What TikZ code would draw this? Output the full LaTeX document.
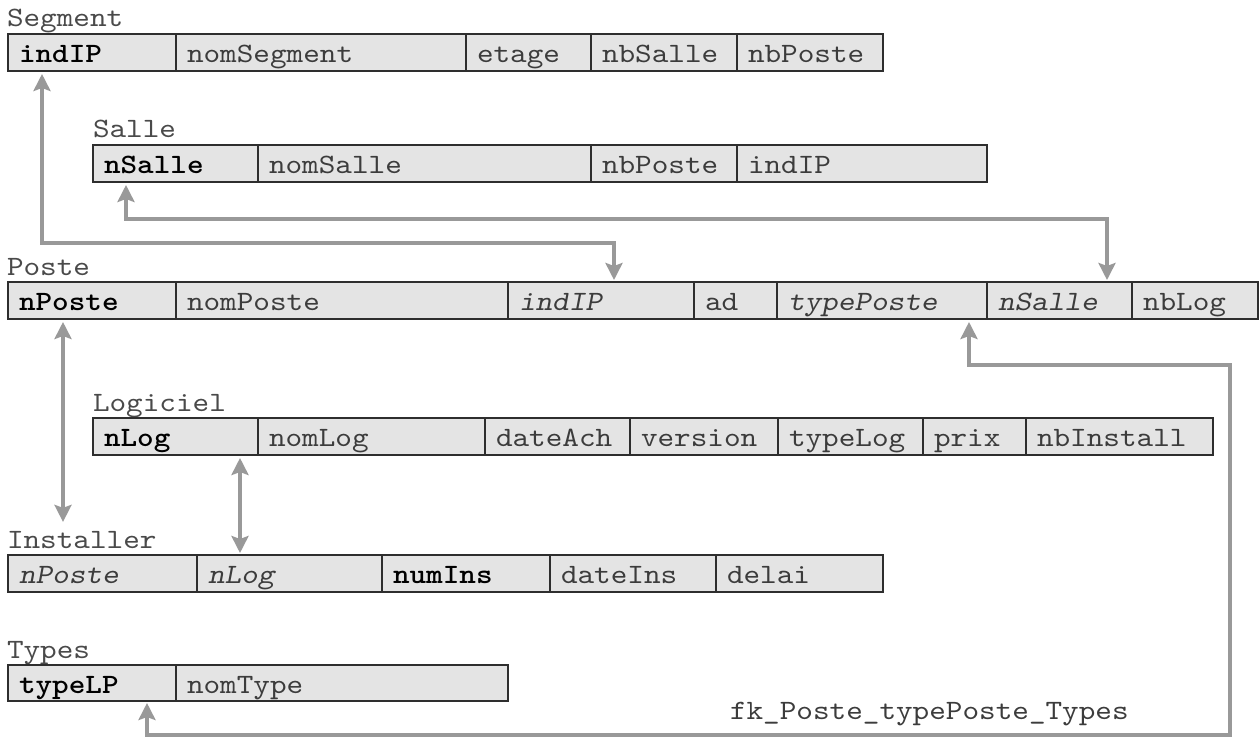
\documentclass[tikz,border=0pt]{standalone}
\usepackage{fontspec}
\setmonofont{lmmono10-regular.otf}[
  ItalicFont=lmmonoslant10-regular.otf,
  BoldFont=lmmonolt10-bold.otf,
  FakeStretch=1.13]
\usetikzlibrary{arrows.meta}

\definecolor{cellfill}{HTML}{E4E4E4}
\definecolor{rulecol}{HTML}{2E2E2E}
\definecolor{txtcol}{HTML}{3C3C3C}
\definecolor{namecol}{HTML}{4A4A4A}
\definecolor{conncol}{HTML}{999999}

\newcommand\schemafont{\ttfamily\fontsize{28}{30}\selectfont}
\newcommand\primk[1]{\textcolor{black}{\bfseries #1}}
\newcommand\forek[1]{\textit{#1}}

\begin{document}
\begin{tikzpicture}[x=1pt,y=-1pt,
  cell/.style={draw=rulecol, line width=1.4pt, fill=cellfill, anchor=north west,
    outer sep=0pt, minimum height=37pt, inner xsep=11pt, inner ysep=0pt,
    text height=20pt, text depth=0pt, align=left, font=\schemafont, text=txtcol},
  frame/.style={draw=rulecol, line width=2.4pt},
  tname/.style={anchor=base west, inner sep=0pt, outer sep=0pt, font=\schemafont, text=namecol},
  fktip/.tip={Stealth[length=17pt,width=17pt,inset=3pt]},
  conn/.style={draw=conncol, line width=3.5pt, fktip-fktip, shorten <=3pt, shorten >=2pt}]

\useasboundingbox (0,0) rectangle (1260,738);

% ---- Segment
\node[tname] (lSeg) at (7,27) {Segment};
\node[cell, text width=146pt] (seg1) at (8,34) {\primk{indIP}};
\node[cell, text width=268pt] (seg2) at (seg1.north east) {nomSegment};
\node[cell, text width=103pt] (seg3) at (seg2.north east) {etage};
\node[cell, text width=124pt] (seg4) at (seg3.north east) {nbSalle};
\node[cell, text width=124pt] (seg5) at (seg4.north east) {nbPoste};
\draw[frame] (seg1.north west) rectangle (seg5.south east);

% ---- Salle
\node[tname] (lSal) at (93,138) {Salle};
\node[cell, text width=143pt] (sal1) at (93,145) {\primk{nSalle}};
\node[cell, text width=311pt] (sal2) at (sal1.north east) {nomSalle};
\node[cell, text width=124pt] (sal3) at (sal2.north east) {nbPoste};
\node[cell, text width=228pt] (sal4) at (sal3.north east) {indIP};
\draw[frame] (sal1.north west) rectangle (sal4.south east);

% ---- Poste
\node[tname] (lPos) at (7,275) {Poste};
\node[cell, text width=146pt] (pos1) at (8,282) {\primk{nPoste}};
\node[cell, text width=310pt] (pos2) at (pos1.north east) {nomPoste};
\node[cell, text width=164pt] (pos3) at (pos2.north east) {\forek{indIP}};
\node[cell, text width=61pt]  (pos4) at (pos3.north east) {ad};
\node[cell, text width=188pt] (pos5) at (pos4.north east) {\forek{typePoste}};
\node[cell, text width=123pt] (pos6) at (pos5.north east) {\forek{nSalle}};
\node[cell, text width=104pt] (pos7) at (pos6.north east) {nbLog};
\draw[frame] (pos1.north west) rectangle (pos7.south east);

% ---- Logiciel
\node[tname] (lLog) at (93,411) {Logiciel};
\node[cell, text width=143pt] (log1) at (93,418) {\primk{nLog}};
\node[cell, text width=205pt] (log2) at (log1.north east) {nomLog};
\node[cell, text width=123pt] (log3) at (log2.north east) {dateAch};
\node[cell, text width=126pt] (log4) at (log3.north east) {version};
\node[cell, text width=123pt] (log5) at (log4.north east) {typeLog};
\node[cell, text width=81pt]  (log6) at (log5.north east) {prix};
\node[cell, text width=165pt] (log7) at (log6.north east) {nbInstall};
\draw[frame] (log1.north west) rectangle (log7.south east);

% ---- Installer
\node[tname] (lIns) at (7,548) {Installer};
\node[cell, text width=167pt] (ins1) at (8,555) {\forek{nPoste}};
\node[cell, text width=163pt] (ins2) at (ins1.north east) {\forek{nLog}};
\node[cell, text width=146pt] (ins3) at (ins2.north east) {\primk{numIns}};
\node[cell, text width=144pt] (ins4) at (ins3.north east) {dateIns};
\node[cell, text width=145pt] (ins5) at (ins4.north east) {delai};
\draw[frame] (ins1.north west) rectangle (ins5.south east);

% ---- Types
\node[tname] (lTyp) at (7,658) {Types};
\node[cell, text width=146pt, minimum height=36pt] (typ1) at (8,665) {\primk{typeLP}};
\node[cell, text width=310pt, minimum height=36pt] (typ2) at (typ1.north east) {nomType};
\draw[frame] (typ1.north west) rectangle (typ2.south east);

\node[tname, text=txtcol] (fkLbl) at (730,719) {fk\_Poste\_typePoste\_Types};

% ---- links
\coordinate (jA) at (614,243);
\coordinate (jB) at (1107,219);
\coordinate (jE1) at (1230,365);
\coordinate (jE2) at (1230,735);

\draw[conn] ([xshift=34pt]seg1.south west) |- (jA) -| ([xshift=106pt]pos3.north west);
\draw[conn] ([xshift=33pt]sal1.south west) |- (jB) -| ([xshift=-25pt]pos6.north east);
\draw[conn, shorten >=9pt] ([xshift=55pt]pos1.south west) -- ([xshift=56pt]lIns.north west);
\draw[conn] ([xshift=-18pt]log1.south east) -- ([xshift=43pt]ins2.north west);
\draw[conn] ([xshift=-18pt]pos5.south east) |- (jE1) -- (jE2) -| ([xshift=-29pt]typ1.south east);
\end{tikzpicture}
\end{document}
